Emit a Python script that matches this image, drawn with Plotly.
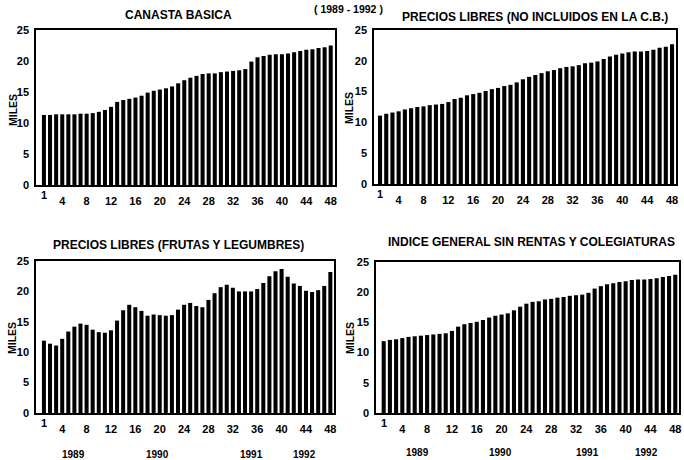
import plotly.graph_objects as go

months = list(range(1, 49))

canasta_basica = [11.3, 11.3, 11.4, 11.4, 11.4, 11.4, 11.5, 11.5, 11.6, 11.8, 12.1, 12.6,
                  13.4, 13.7, 13.9, 14.1, 14.4, 14.9, 15.2, 15.4, 15.6, 15.9, 16.4, 16.9,
                  17.3, 17.6, 17.9, 18.0, 18.0, 18.2, 18.3, 18.4, 18.5, 18.7, 19.9, 20.6,
                  20.8, 21.0, 21.1, 21.1, 21.2, 21.4, 21.6, 21.8, 21.9, 22.1, 22.2, 22.5]

libres_no_cb = [11.1, 11.4, 11.6, 11.8, 12.1, 12.3, 12.5, 12.6, 12.8, 12.9, 13.0, 13.3,
                13.8, 14.0, 14.4, 14.6, 14.8, 15.1, 15.4, 15.6, 15.9, 16.1, 16.5, 17.0,
                17.4, 17.7, 18.0, 18.3, 18.5, 18.8, 19.0, 19.1, 19.3, 19.6, 19.7, 19.9,
                20.3, 20.7, 21.0, 21.2, 21.4, 21.5, 21.5, 21.6, 21.8, 22.1, 22.3, 22.7]

frutas_legumbres = [11.9, 11.4, 11.1, 12.2, 13.4, 14.2, 14.7, 14.5, 13.7, 13.3, 13.2, 13.6,
                    15.2, 16.9, 17.8, 17.4, 16.8, 16.0, 16.2, 16.1, 16.0, 16.1, 17.0, 17.8,
                    18.1, 17.6, 17.4, 18.6, 19.7, 20.7, 21.1, 20.6, 20.0, 20.0, 20.0, 20.4,
                    21.4, 22.5, 23.3, 23.7, 22.4, 21.3, 20.9, 20.1, 19.9, 20.2, 20.9, 23.2]

indice_general = [11.9, 12.1, 12.2, 12.4, 12.6, 12.7, 12.8, 12.9, 13.0, 13.1, 13.2, 13.6,
                  14.3, 14.7, 14.9, 15.1, 15.4, 15.8, 16.1, 16.3, 16.5, 17.0, 17.6, 18.1,
                  18.4, 18.5, 18.8, 18.9, 19.1, 19.2, 19.4, 19.5, 19.6, 19.9, 20.6, 21.0,
                  21.3, 21.5, 21.7, 21.8, 22.0, 22.1, 22.1, 22.2, 22.3, 22.5, 22.7, 22.9]

titles = ["CANASTA BASICA", "PRECIOS LIBRES (NO INCLUIDOS EN LA C.B.)",
          "PRECIOS LIBRES (FRUTAS Y LEGUMBRES)", "INDICE GENERAL SIN RENTAS Y COLEGIATURAS"]
header = "( 1989 - 1992 )"
y_title = "MILES"
x_tickvals = [4, 8, 12, 16, 20, 24, 28, 32, 36, 40, 44, 48]
x_ticktext = [str(v) for v in x_tickvals]
first_tick = "1"
y_tickvals = [0, 5, 10, 15, 20, 25]
years = ["1989", "1990", "1991", "1992"]
year_pos_left = [5.9, 19.7, 35.0, 43.8]
year_pos_right = [6.4, 19.9, 33.8, 43.3]

series = [canasta_basica, libres_no_cb, frutas_legumbres, indice_general]

W, H = 684, 460
FONT = "Liberation Sans"

# panel boxes in pixels: (left, right, top, bottom), x-range
panels = [
    (36, 335, 30, 185, [-0.3, 48.7]),
    (374, 676, 30, 184, [0.03, 48.64]),
    (36, 334, 261, 413, [-0.3, 48.6]),
    (376, 679, 262, 413, [-0.24, 48.6]),
]

fig = go.Figure()
layout = dict(width=W, height=H, margin=dict(l=0, r=0, t=0, b=0, autoexpand=False),
              paper_bgcolor="white", plot_bgcolor="white", showlegend=False,
              bargap=0.34)
annotations = []

def bfont(size):
    return dict(family=FONT, size=size, color="black", weight="bold")

def ann(**kw):
    d = dict(showarrow=False, xanchor="center", yanchor="middle")
    d.update(kw)
    annotations.append(d)

for i, (vals, (l, r, t, b, xr)) in enumerate(zip(series, panels)):
    n = i + 1
    xa = "x" if n == 1 else f"x{n}"
    ya = "y" if n == 1 else f"y{n}"
    fig.add_trace(go.Bar(x=months, y=vals, xaxis=xa, yaxis=ya,
                         marker=dict(color="black", line=dict(width=0))))
    xkey = "xaxis" if n == 1 else f"xaxis{n}"
    ykey = "yaxis" if n == 1 else f"yaxis{n}"
    layout[xkey] = dict(domain=[l / W, r / W], range=xr, anchor=ya, automargin=False,
                        tickvals=x_tickvals, ticktext=x_ticktext, ticks="",
                        ticklabelstandoff=5, tickfont=bfont(11),
                        showgrid=False, zeroline=False, showline=True, linecolor="black",
                        linewidth=1.5, mirror=True)
    layout[ykey] = dict(domain=[1 - b / H, 1 - t / H], range=[0, 25], anchor=xa, automargin=False,
                        tickvals=y_tickvals, ticks="", ticklabelstandoff=3, tickfont=bfont(11),
                        showgrid=False, zeroline=False, showline=True, linecolor="black",
                        linewidth=1.5, mirror=True)
    # raised "1" tick label
    ann(x=1, y=1 - (b + 10) / H, xref=xa, yref="paper", text=first_tick, font=bfont(11))
    # title
    ty = [15, 17, 245, 242][i]
    tx = [178, 535, 178, 531][i]
    ann(x=tx / W, y=1 - ty / H, xref="paper", yref="paper", text=titles[i], font=bfont(12))
    # MILES
    mx = [13, 349, 12, 350][i]
    my = [110, 108, 338, 338][i]
    ann(x=mx / W, y=1 - my / H, xref="paper", yref="paper", text=y_title,
        textangle=-90, font=bfont(10.5))

# year labels
for i, yr in enumerate(years):
    ann(x=year_pos_left[i], y=1 - 454 / H, xref="x3", yref="paper", text=yr, font=bfont(10))
    ann(x=year_pos_right[i], y=1 - 452 / H, xref="x4", yref="paper", text=yr, font=bfont(10))

ann(x=349 / W, y=1 - 9 / H, xref="paper", yref="paper", text=header, font=bfont(10.5))

layout["annotations"] = annotations
fig.update_layout(**layout)
fig.write_html("out.html", config={"displayModeBar": False},
               post_script="document.body.style.margin='0';document.body.style.padding='0';")
